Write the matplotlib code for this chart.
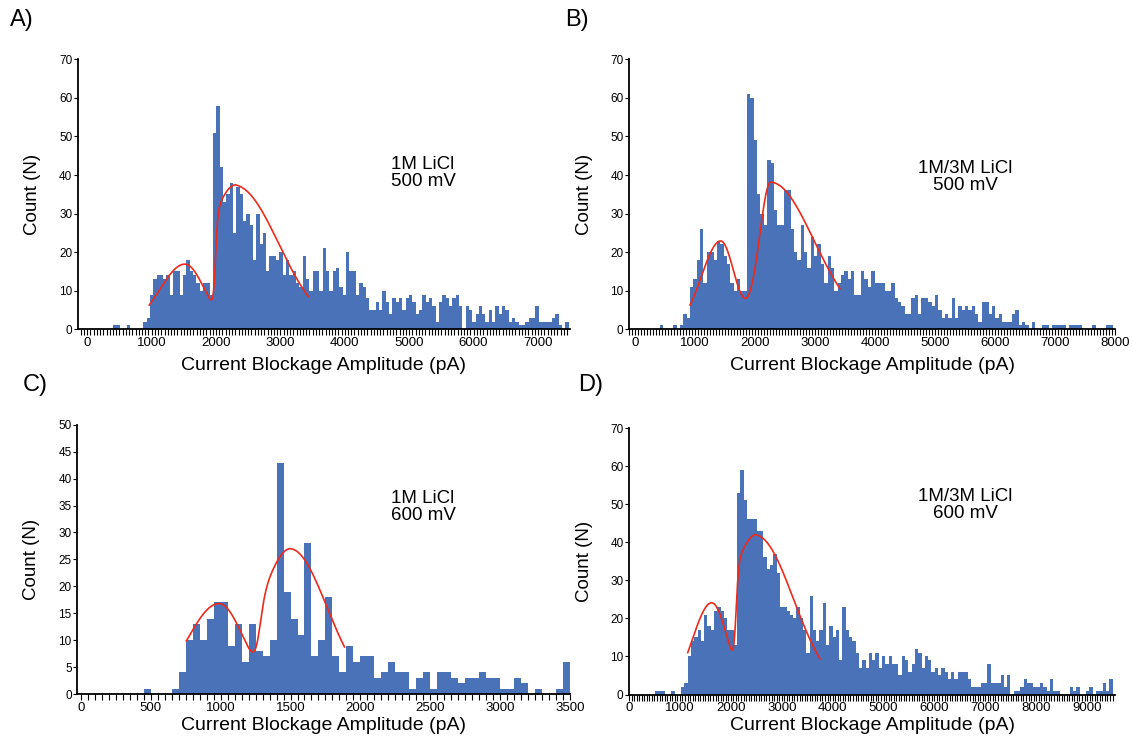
import numpy as np
import matplotlib
matplotlib.use("Agg")
import matplotlib.pyplot as plt
from matplotlib.ticker import MultipleLocator

plt.rcParams['font.family'] = ['Liberation Sans', 'DejaVu Sans']

# ---- histogram counts (one value per bin) ----
# A) 1M LiCl, 500 mV
a_start, a_width = 405, 51.6
a_counts = [1, 1, 0, 0, 1, 0, 0, 0, 0,
            2, 3, 9, 13, 14, 14, 13, 14, 9, 15, 15, 9, 14, 18, 15, 14, 12, 10, 12, 12,
            9, 51, 58, 42, 33, 35, 38, 25, 37, 35, 28, 30, 27, 18, 30, 22, 25, 15, 19, 19,
            18, 20, 14, 18, 14, 15, 12, 11, 19, 13, 10, 15, 15, 10,
            21, 15, 10, 15, 16, 11, 9, 20, 15, 15, 9, 12, 11, 8, 5, 5, 7, 5, 10, 7,
            4, 8, 7, 8, 5, 8, 9, 7, 4, 5, 9, 7, 8, 6, 2, 7, 9, 8, 6, 8,
            9, 6, 0, 6, 5, 2, 4, 6, 4, 2, 5, 2, 6, 4, 6, 5, 2, 3, 2, 1,
            1, 2, 3, 3, 6, 2, 2, 2, 2, 3, 4, 1, 0, 2]

# B) 1M/3M LiCl, 500 mV
b_start, b_width = 414, 55.9
b_counts = [1, 0, 0, 0, 1, 0, 1, 4, 3,
            11, 13, 18, 26, 12, 20, 20, 18, 23, 22, 19, 17, 12, 10, 13, 10, 10, 61, 60, 49,
            35, 30, 27, 44, 43, 31, 27, 27, 36, 36, 26, 20, 18, 27, 20, 16, 24, 19, 22, 17,
            12, 19, 16, 10, 12, 14, 15, 13, 15, 9, 9, 15, 13, 11,
            15, 12, 12, 12, 10, 10, 12, 8, 7, 6, 4, 4, 8, 9, 4, 8, 8, 7, 6, 9,
            5, 3, 4, 3, 8, 3, 6, 5, 6, 5, 6, 4, 2, 7, 7, 4, 6, 3, 4, 2,
            2, 2, 4, 5, 1, 2, 1, 0, 2, 0, 0, 1, 1, 0, 1, 1, 1, 1, 0, 1,
            1, 1, 1, 0, 0, 0, 1, 0, 0, 0, 1, 1, 0]

# C) 1M LiCl, 600 mV
c_start, c_width = 450, 50
c_counts = [1, 0, 0, 0, 1, 4, 10, 13, 10, 14, 17, 17, 9, 13, 6, 13, 8, 7, 10, 43,
            19, 14, 11, 28, 7, 10, 18, 7, 4, 9, 6, 7, 7, 3, 4, 6, 4, 4, 1, 3,
            4, 1, 4, 4, 3, 2, 3, 3, 4, 3, 3, 1, 1, 3, 2, 0, 1, 0, 0, 1, 6]

# D) 1M/3M LiCl, 600 mV
d_start, d_width = 506, 64.7
d_counts = [1, 1, 1, 0, 0, 1, 0, 0, 2, 3,
            10, 14, 15, 17, 14, 21, 18, 17, 22, 23, 22, 20, 17, 17, 13, 53, 59, 51, 46, 46,
            46, 43, 43, 36, 33, 34, 37, 32, 23, 23, 22, 21, 20, 23, 20, 17, 11, 26, 17, 14,
            17, 24, 13, 18, 15, 17, 9, 23, 17, 15, 14, 11, 7, 9, 7, 11, 9, 11, 7,
            10, 8, 10, 8, 8, 5, 10, 9, 6, 8, 12, 11, 7, 10, 9, 6, 7, 5, 7, 6,
            4, 6, 4, 6, 6, 6, 4, 2, 2, 2, 3, 3, 8, 3, 3, 3, 5, 2, 5, 0,
            1, 1, 2, 4, 3, 3, 2, 2, 3, 2, 1, 4, 1, 1, 0, 0, 0, 2, 1, 2,
            0, 0, 1, 2, 0, 1, 1, 3, 1, 4, 0]

# ---- two-peak fits: (amplitude, centre, sigma left, sigma right) ----
a_fit1, a_fit2 = (16.9, 1517, 394, 309), (36.8, 2320, 380, 650)
a_gate, a_fit_range = (1990, 18), (963, 3432)
b_fit1, b_fit2 = (22.9, 1428, 318, 232), (38.1, 2261, 190, 720)
b_gate, b_fit_range = (1000, 30), (917, 3417)
c_fit1, c_fit2 = (16.8, 988, 226, 180), (26.7, 1505, 200, 255)
c_gate, c_fit_range = (1275, 20), (755, 1886)
d_fit1, d_fit2 = (24.1, 1625, 377, 311), (41.5, 2509, 450, 720)
d_gate, d_fit_range = (2100, 25), (1153, 3752)

panel_labels = ["A)", "B)", "C)", "D)"]
conditions = ["1M LiCl\n500 mV", "1M/3M LiCl\n500 mV",
              "1M LiCl\n600 mV", "1M/3M LiCl\n600 mV"]

BAR_COLOR = "#4a72b9"
FIT_COLOR = "#ee2a1b"


def split_gauss(x, amp, mu, s_left, s_right):
    s = np.where(x < mu, s_left, s_right)
    return amp * np.exp(-(x - mu) ** 2 / (2.0 * s ** 2))


def fit_curve(x, p1, p2, gate):
    x0, w = gate
    step = 1.0 / (1.0 + np.exp(-(x - x0) / w))
    return split_gauss(x, *p1) + step * split_gauss(x, *p2)


def draw_panel(ax, counts, start, width, p1, p2, gate, frange,
               xlim, ylim, xmajor, ymajor, xlabel_y):
    edges = start + width * np.arange(len(counts) + 1)
    ax.bar(edges[:-1], counts, width=width, align="edge",
           color=BAR_COLOR, linewidth=0)
    xf = np.linspace(frange[0], frange[1], 500)
    ax.plot(xf, fit_curve(xf, p1, p2, gate), color=FIT_COLOR, lw=1.2)

    ax.set_xlim(*xlim)
    ax.set_ylim(*ylim)
    ax.xaxis.set_major_locator(MultipleLocator(xmajor))
    ax.xaxis.set_minor_locator(MultipleLocator(50))
    ax.yaxis.set_major_locator(MultipleLocator(ymajor))
    for s in ("top", "right"):
        ax.spines[s].set_visible(False)
    for s in ("left", "bottom"):
        ax.spines[s].set_linewidth(1.3)
    ax.tick_params(axis="x", which="both", length=4, width=0.8,
                   labelsize=9.5, pad=1.5)
    ax.tick_params(axis="y", length=3, width=0.8, labelsize=8.5, pad=1)
    ax.set_xlabel("Current Blockage Amplitude (pA)", fontsize=14)
    ax.set_ylabel("Count (N)", fontsize=13.5)
    ax.xaxis.set_label_coords(0.5, xlabel_y)
    ax.yaxis.set_label_coords(-0.075, 0.5)


fig = plt.figure(figsize=(11.33, 7.44), dpi=100)

ax_a = fig.add_axes([0.0688, 0.5574, 0.4342, 0.3629])
ax_b = fig.add_axes([0.5552, 0.5574, 0.4289, 0.3629])
ax_c = fig.add_axes([0.0682, 0.0672, 0.4349, 0.3618])
ax_d = fig.add_axes([0.5552, 0.0665, 0.4289, 0.3582])

draw_panel(ax_a, a_counts, a_start, a_width, a_fit1, a_fit2, a_gate, a_fit_range,
           (-144, 7495), (0, 70), 1000, 10, -0.104)
draw_panel(ax_b, b_counts, b_start, b_width, b_fit1, b_fit2, b_gate, b_fit_range,
           (-100, 8000), (0, 70), 1000, 10, -0.104)
draw_panel(ax_c, c_counts, c_start, c_width, c_fit1, c_fit2, c_gate, c_fit_range,
           (-26, 3500), (0, 50), 500, 5, -0.085)
draw_panel(ax_d, d_counts, d_start, d_width, d_fit1, d_fit2, d_gate, d_fit_range,
           (0, 9548), (0, 70), 1000, 10, -0.085)

# panel letters and condition notes (figure pixel positions)
W, H = 1133, 744
for lab, (px, py) in zip(panel_labels, [(22, 20), (577, 20), (35, 385), (591, 385)]):
    fig.text(px / W, 1 - py / H, lab, fontsize=17, ha="center", va="center")
for note, (px, py) in zip(conditions, [(423, 173), (965, 177), (423, 507), (965, 505)]):
    fig.text(px / W, 1 - py / H, note, fontsize=13.5, ha="center", va="center",
             linespacing=1.0)

fig.savefig("out.png", dpi=100)
